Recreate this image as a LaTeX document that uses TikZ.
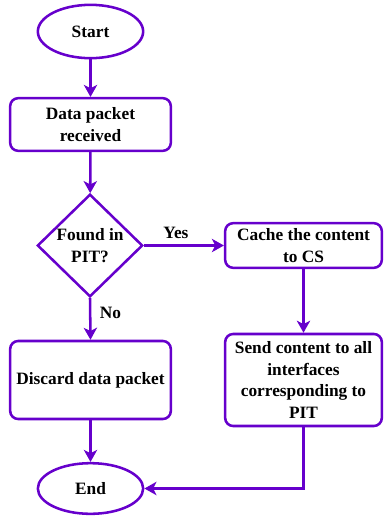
\documentclass[tikz,border=0pt]{standalone}
\usepackage{fontspec}
\setmainfont{Liberation Serif}
\usetikzlibrary{shapes.geometric,arrows.meta}
\definecolor{flowpurple}{HTML}{6600CC}
\begin{document}
\begin{tikzpicture}[x=0.75pt,y=-0.75pt,
  every node/.style={font=\fontsize{13}{16.2}\selectfont\bfseries, align=center},
  base/.style={draw=flowpurple, line width=1.9pt, fill=white},
  term/.style={base, ellipse, minimum width=79pt, minimum height=40pt, inner sep=0pt},
  proc/.style={base, rectangle, rounded corners=6pt, inner sep=0pt},
  decide/.style={base, diamond, minimum width=79pt, minimum height=77pt, inner sep=0pt},
  flow/.style={draw=flowpurple, line width=1.9pt, -{Stealth[length=9pt,width=10pt,inset=2.5pt]}},
  lbl/.style={font=\fontsize{13}{16}\selectfont\bfseries}
]
\useasboundingbox (0,0) rectangle (383,518);
\node[term] (start) at (90.5,31.5) {Start};
\node[proc, minimum width=120.5pt, minimum height=39.5pt] (recv) at (90.5,124.5) {Data packet\\received};
\node[decide] (pit) at (90,245.5) {Found in\\PIT?};
\node[proc, minimum width=117.5pt, minimum height=33.5pt] (cache) at (303.5,245.5) {Cache the content\\to CS};
\node[proc, minimum width=120.5pt, minimum height=58.5pt] (discard) at (90.5,380) {Discard data packet};
\node[proc, minimum width=117.5pt, minimum height=69pt] (send) at (303.5,380) {Send content to all\\interfaces\\corresponding to\\PIT};
\node[term, minimum height=38pt] (end) at (90.5,488.5) {End};
\draw[flow] (start) -- (recv);
\draw[flow] (recv) -- (pit);
\draw[flow] (pit.east) -- node[lbl, above=1pt, xshift=-6pt] {Yes} (cache.west);
\draw[flow] (pit.south) -- node[lbl, right=3pt, pos=0.35] {No} (discard.north);
\draw[flow] (cache) -- (send);
\draw[flow] (discard) -- (end);
\draw[flow] (send.south) |- (end.east);
\end{tikzpicture}
\end{document}
